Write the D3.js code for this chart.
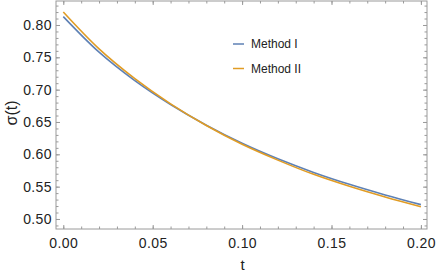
<!DOCTYPE html>
<html>
<head>
<meta charset="utf-8">
<script src="https://cdn.jsdelivr.net/npm/d3@7"></script>
<style>
  body { margin: 0; background: #fff; }
  text { font-family: "Liberation Sans", Arial, sans-serif; fill: #222; }
</style>
</head>
<body>
<svg id="chart" width="437" height="275"></svg>
<script>
// data
var tValues = [0, 0.02, 0.04, 0.06, 0.08, 0.10, 0.12, 0.14, 0.16, 0.18, 0.20];
var methodI  = [0.813, 0.758, 0.714, 0.677, 0.645, 0.617, 0.593, 0.572, 0.5536, 0.5372, 0.5222];
var methodII = [0.820, 0.763, 0.717, 0.678, 0.6445, 0.6155, 0.591, 0.569, 0.5505, 0.534, 0.519];
var seriesNames = ["Method I", "Method II"];
var seriesColors = ["#5E81B5", "#E19C24"];
var xTicks = [0, 0.05, 0.10, 0.15, 0.20];
var yTicks = [0.50, 0.55, 0.60, 0.65, 0.70, 0.75, 0.80];

var svg = d3.select("#chart");
var plotLeft = 56, plotRight = 427, plotTop = 1, plotBottom = 229;

var x = d3.scaleLinear().domain([-0.00408, 0.20341]).range([plotLeft, plotRight]);
var y = d3.scaleLinear().domain([0.4845, 0.8371]).range([plotBottom, plotTop]);

var frameColor = "#9a9a9a";

//minor ticks every 0.01
var xMinor = d3.range(0, 0.2001, 0.01);
var yMinor = d3.range(0.49, 0.8301, 0.01);

function styleAxis(g) {
    g.select(".domain").remove();
    g.selectAll("line").attr("stroke", frameColor);
    g.selectAll("text").style("font-size", "14px").style("letter-spacing", "0.4px").attr("fill", "#222");
}

//bottom axis with labels
svg.append("g").attr("transform", "translate(0," + plotBottom + ")")
    .call(d3.axisBottom(x).tickValues(xTicks).tickSize(-4).tickPadding(9).tickFormat(d3.format(".2f")))
    .call(styleAxis);
svg.append("g").attr("transform", "translate(0," + plotBottom + ")")
    .call(d3.axisBottom(x).tickValues(xMinor).tickSize(-2.5).tickFormat(""))
    .call(styleAxis);
//top axis, no labels
svg.append("g").attr("transform", "translate(0," + plotTop + ")")
    .call(d3.axisTop(x).tickValues(xTicks).tickSize(-4).tickFormat(""))
    .call(styleAxis);
svg.append("g").attr("transform", "translate(0," + plotTop + ")")
    .call(d3.axisTop(x).tickValues(xMinor).tickSize(-2.5).tickFormat(""))
    .call(styleAxis);
//left axis with labels
svg.append("g").attr("transform", "translate(" + plotLeft + ",0)")
    .call(d3.axisLeft(y).tickValues(yTicks).tickSize(-4).tickPadding(4).tickFormat(d3.format(".2f")))
    .call(styleAxis);
svg.append("g").attr("transform", "translate(" + plotLeft + ",0)")
    .call(d3.axisLeft(y).tickValues(yMinor).tickSize(-2.5).tickFormat(""))
    .call(styleAxis);
//right axis, no labels
svg.append("g").attr("transform", "translate(" + plotRight + ",0)")
    .call(d3.axisRight(y).tickValues(yTicks).tickSize(-4).tickFormat(""))
    .call(styleAxis);
svg.append("g").attr("transform", "translate(" + plotRight + ",0)")
    .call(d3.axisRight(y).tickValues(yMinor).tickSize(-2.5).tickFormat(""))
    .call(styleAxis);

//frame
svg.append("rect")
    .attr("x", plotLeft).attr("y", plotTop)
    .attr("width", plotRight - plotLeft).attr("height", plotBottom - plotTop)
    .attr("fill", "none").attr("stroke", frameColor).attr("stroke-width", 1);

//curves
var line = d3.line()
    .x(function(d) { return x(d.t); })
    .y(function(d) { return y(d.v); })
    .curve(d3.curveCatmullRom);

[methodI, methodII].forEach(function(vals, i) {
    var pts = tValues.map(function(t, j) { return {t: t, v: vals[j]}; });
    svg.append("path")
        .datum(pts)
        .attr("d", line)
        .attr("fill", "none")
        .attr("stroke", seriesColors[i])
        .attr("stroke-width", 1.6);
});

//legend
var legend = svg.append("g").attr("transform", "translate(233,44)");
seriesNames.forEach(function(name, i) {
    var g = legend.append("g").attr("transform", "translate(0," + (i * 24.5) + ")");
    g.append("line").attr("x1", 0).attr("x2", 11).attr("y1", 0).attr("y2", 0)
        .attr("stroke", seriesColors[i]).attr("stroke-width", 1.5);
    g.append("text").attr("x", 18).attr("y", 4.3)
        .style("font-size", "12px").text(name);
});

//axis titles
svg.append("text")
    .attr("x", 242.5).attr("y", 270)
    .attr("text-anchor", "middle")
    .style("font-size", "15px")
    .text("t");
svg.append("text")
    .attr("transform", "translate(17,113) rotate(-90)")
    .attr("text-anchor", "middle")
    .style("font-size", "16px")
    .text("σ(t)");
</script>
</body>
</html>
